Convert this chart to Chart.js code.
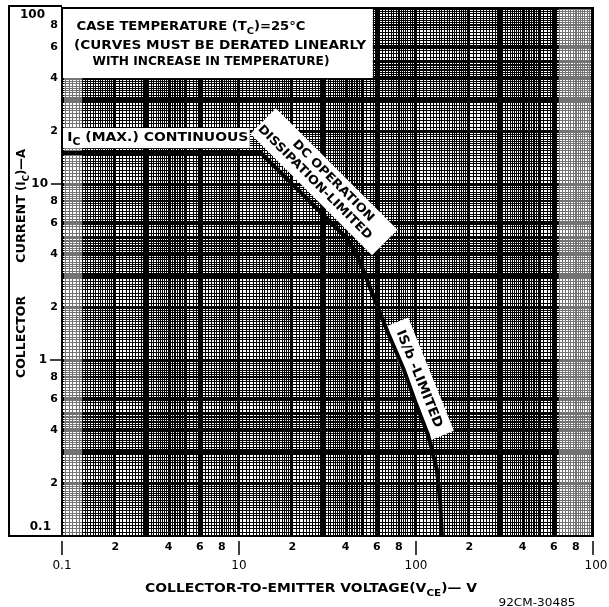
<!DOCTYPE html>
<html>
<head>
<meta charset="utf-8">
<script src="https://cdn.jsdelivr.net/npm/chart.js@4.4.1/dist/chart.umd.min.js"></script>
<style>
  html, body { margin: 0; padding: 0; background: #fff; }
</style>
</head>
<body>
<canvas id="soa" width="609" height="607"></canvas>
<script>
// safe operating area (dc)
const vceVolts = [1, 13.3, 30, 40, 45, 50, 59, 70, 85, 99, 117, 131, 137, 140];
const icAmps   = [15, 15, 6.65, 5, 4.2, 3.3, 2.15, 1.4, 0.89, 0.58, 0.375, 0.24, 0.156, 0.1];

// axis ranges and the labels as printed on the sheet
const xRange = [1, 1000];
const yRange = [0.1, 100];
const xMajorVals = [1, 10, 100, 1000];
const xMajorText = ['0.1', '10', '100', '100'];
const yMajorVals = [0.1, 1, 10, 100];
const yMajorText = ['0.1', '1', '10', '100'];
const minorMarks = [2, 4, 6, 8];

// rulings of the log paper inside one decade: [from, to, step]
const rulingSteps = [[1, 2, 0.05], [2, 5, 0.1], [5, 10, 0.25]];

const FONT = '"DejaVu Sans", "Liberation Sans", sans-serif';

function decadeValues(lo, hi) {
    const out = [];
    for (let d = lo; d < hi * 0.999; d *= 10) {
        rulingSteps.forEach(([from, to, step]) => {
            const n = Math.round((to - from) / step);
            for (let k = 0; k < n; k++) out.push(+((from + k * step) * d).toPrecision(4));
        });
    }
    out.push(hi);
    return out;
}

function mantissa(v) {
    const e = Math.floor(Math.log10(v) + 1e-9);
    return Math.round(v / Math.pow(10, e) * 100) / 100;
}

function rulingWidth(v) {
    const m = mantissa(v);
    if (m === 3 || m === 6) return 4;
    if (m === 1 || m === 2 || m === 4 || m === 5 || m === 8) return 2;
    return 1;
}

// draws text made of runs [text, isSubscript], squeezed to a given width
function drawRuns(ctx, runs, cx, cy, width, size, angle, weight) {
    weight = weight || 'bold';
    ctx.save();
    ctx.translate(cx, cy);
    ctx.rotate(angle || 0);
    ctx.textAlign = 'left';
    ctx.textBaseline = 'middle';
    ctx.fillStyle = '#000';
    let total = 0;
    const widths = runs.map(([t, sub]) => {
        ctx.font = `${weight} ${sub ? Math.round(size * 0.78) : size}px ${FONT}`;
        const w = ctx.measureText(t).width;
        total += w;
        return w;
    });
    if (width) ctx.scale(width / total, 1);
    let pos = -total / 2;
    runs.forEach(([t, sub], i) => {
        ctx.font = `${weight} ${sub ? Math.round(size * 0.78) : size}px ${FONT}`;
        ctx.fillText(t, pos, sub ? size * 0.35 : 0);
        pos += widths[i];
    });
    ctx.restore();
}

function whiteBox(ctx, cx, cy, w, h, angle) {
    ctx.save();
    ctx.translate(cx, cy);
    ctx.rotate(angle || 0);
    ctx.fillStyle = '#fff';
    ctx.fillRect(-w / 2, -h / 2, w, h);
    ctx.restore();
}

const soaDecor = {
    id: 'soaDecor',
    beforeDatasetsDraw(chart) {
        const ctx = chart.ctx;
        const x = chart.scales.x, y = chart.scales.y;
        const a = chart.chartArea;

        // the faded strips of the printed paper at both ends
        ctx.fillStyle = 'rgba(255,255,255,0.45)';
        const lx = x.getPixelForValue(1.3);
        ctx.fillRect(a.left + 2, a.top, lx - a.left - 2, a.bottom - a.top);
        const rx = x.getPixelForValue(640);
        ctx.fillRect(rx, a.top, a.right - rx - 2, a.bottom - a.top);

        // note block, top left
        const bx1 = x.getPixelForValue(57), by1 = y.getPixelForValue(40);
        ctx.fillStyle = '#fff';
        ctx.fillRect(a.left, a.top, bx1 - a.left, by1 - a.top);
        drawRuns(ctx, [['CASE TEMPERATURE (T', 0], ['C', 1], [')=25°C', 0]], 191, 27, 229, 12);
        drawRuns(ctx, [['(CURVES MUST BE DERATED LINEARLY', 0]], 220, 46, 292, 12);
        drawRuns(ctx, [['WITH INCREASE IN TEMPERATURE)', 0]], 211, 62, 237, 12);

        // Ic(max) label
        const ix1 = x.getPixelForValue(11.5);
        const iy0 = y.getPixelForValue(20.8), iy1 = y.getPixelForValue(16);
        ctx.fillStyle = '#fff';
        ctx.fillRect(a.left + 1, iy0, ix1 - a.left - 1, iy1 - iy0);
        drawRuns(ctx, [['I', 0], ['C', 1], [' (MAX.) CONTINUOUS', 0]], (a.left + ix1) / 2 + 2, (iy0 + iy1) / 2, 181, 13);

        // dissipation-limited label
        const dx = x.getPixelForValue(30.2), dy = y.getPixelForValue(10.3);
        const ang1 = Math.PI / 4;
        whiteBox(ctx, dx, dy, 172, 36, ang1);
        const c1 = Math.cos(ang1), s1 = Math.sin(ang1);
        drawRuns(ctx, [['DC OPERATION', 0]], dx + 6 * c1 + 7 * s1, dy + 6 * s1 - 7 * c1, 110, 12, ang1);
        drawRuns(ctx, [['DISSIPATION-LIMITED', 0]], dx - 6 * c1 - 7 * s1, dy - 6 * s1 + 7 * c1, 156, 12, ang1);

        // Is/b-limited label
        const sx = x.getPixelForValue(104), sy = y.getPixelForValue(0.78);
        const ang2 = 68 * Math.PI / 180;
        whiteBox(ctx, sx, sy, 122, 26, ang2);
        drawRuns(ctx, [['IS/b -LIMITED', 0]], sx, sy, 104, 13, ang2);
    },
    afterDraw(chart) {
        const ctx = chart.ctx;
        const x = chart.scales.x, y = chart.scales.y;
        const a = chart.chartArea;

        ctx.save();
        ctx.strokeStyle = '#000';
        ctx.lineWidth = 2;
        ctx.strokeRect(a.left, a.top, a.right - a.left, a.bottom - a.top);
        // outer frame round the current scale
        ctx.beginPath();
        ctx.moveTo(a.left, 6);
        ctx.lineTo(9, 6);
        ctx.lineTo(9, a.bottom);
        ctx.lineTo(a.left, a.bottom);
        ctx.stroke();
        ctx.restore();

        // y tick labels
        ctx.save();
        ctx.fillStyle = '#000';
        ctx.textBaseline = 'middle';
        ctx.textAlign = 'center';
        ctx.font = `bold 11px ${FONT}`;
        yMajorVals.slice(0, -1).forEach(d => {
            minorMarks.forEach(m => ctx.fillText(String(m), 54, y.getPixelForValue(m * d)));
        });
        ctx.textAlign = 'right';
        ctx.font = `bold 12px ${FONT}`;
        yMajorVals.forEach((v, i) => {
            let py = y.getPixelForValue(v);
            if (i === 0) { ctx.fillText(yMajorText[i], 51, py - 9); return; }
            if (i === yMajorVals.length - 1) { ctx.fillText(yMajorText[i], 45, py + 7); return; }
            const tx = i === 1 ? 47 : 48;
            ctx.fillText(yMajorText[i], tx, py);
            ctx.lineWidth = 1.5;
            ctx.beginPath();
            ctx.moveTo(tx + 3, py);
            ctx.lineTo(a.left, py);
            ctx.stroke();
        });

        // x tick labels
        ctx.textAlign = 'center';
        ctx.font = `bold 11px ${FONT}`;
        xMajorVals.slice(0, -1).forEach(d => {
            minorMarks.forEach(m => ctx.fillText(String(m), x.getPixelForValue(m * d), 547));
        });
        ctx.font = `12px ${FONT}`;
        xMajorVals.forEach((v, i) => {
            const px = x.getPixelForValue(v);
            ctx.lineWidth = 1.5;
            ctx.beginPath();
            ctx.moveTo(px, 541);
            ctx.lineTo(px, 555);
            ctx.stroke();
            ctx.fillText(xMajorText[i], px + (i === xMajorVals.length - 1 ? 3 : 0), 566);
        });
        ctx.restore();

        // axis titles
        drawRuns(ctx, [['COLLECTOR-TO-EMITTER VOLTAGE(V', 0], ['CE', 1], [')— V', 0]], 311, 589, 332, 12);
        drawRuns(ctx, [['92CM-30485', 0]], 537, 603, 77, 11, 0, 'normal');
        drawRuns(ctx, [['COLLECTOR', 0]], 22, 337, 82, 12, -Math.PI / 2);
        drawRuns(ctx, [['CURRENT', 0]], 22, 229, 68, 12, -Math.PI / 2);
        drawRuns(ctx, [['(I', 0], ['C', 1], [')—A', 0]], 22, 170, 42, 12, -Math.PI / 2);
    }
};

new Chart(document.getElementById('soa'), {
    type: 'line',
    data: {
        datasets: [{
            data: vceVolts.map((v, i) => ({ x: v, y: icAmps[i] })),
            borderColor: '#000',
            borderWidth: 4,
            pointRadius: 0,
            tension: 0,
            fill: false
        }]
    },
    options: {
        responsive: false,
        animation: false,
        devicePixelRatio: 1,
        layout: { padding: { left: 62, right: 16, top: 8, bottom: 71 } },
        plugins: { legend: { display: false }, tooltip: { enabled: false } },
        scales: {
            x: {
                type: 'logarithmic',
                min: xRange[0],
                max: xRange[1],
                afterBuildTicks: s => { s.ticks = decadeValues(xRange[0], xRange[1]).map(v => ({ value: v })); },
                ticks: { display: false, autoSkip: false },
                border: { display: false },
                grid: {
                    drawTicks: false,
                    color: '#000',
                    lineWidth: c => rulingWidth(c.tick.value)
                }
            },
            y: {
                type: 'logarithmic',
                min: yRange[0],
                max: yRange[1],
                afterBuildTicks: s => { s.ticks = decadeValues(yRange[0], yRange[1]).map(v => ({ value: v })); },
                ticks: { display: false, autoSkip: false },
                border: { display: false },
                grid: {
                    drawTicks: false,
                    color: '#000',
                    lineWidth: c => rulingWidth(c.tick.value)
                }
            }
        }
    },
    plugins: [soaDecor]
});
</script>
</body>
</html>
